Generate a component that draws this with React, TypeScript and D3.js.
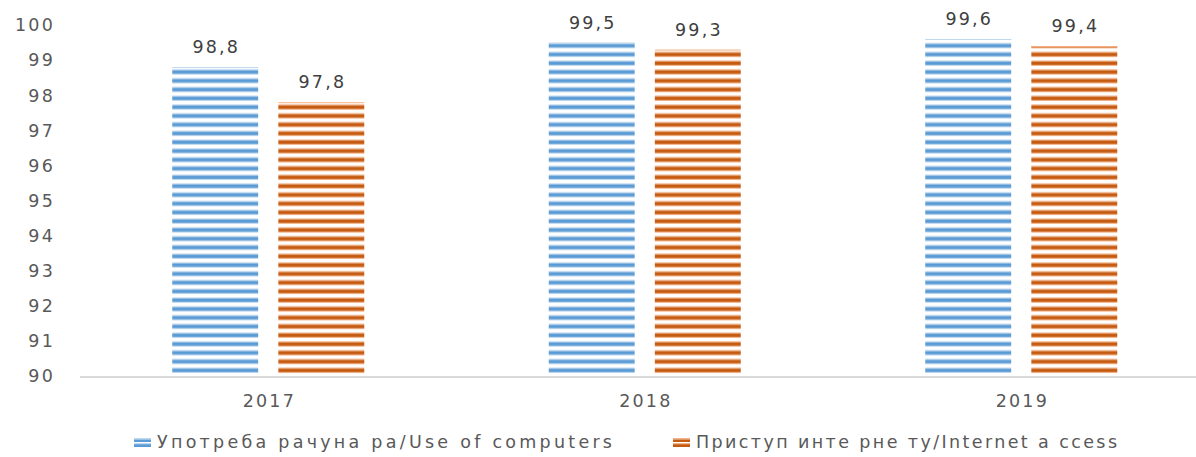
import { useEffect, useRef } from "react";
import * as d3 from "d3";

const YEARS = ["2017", "2018", "2019"];
const COMPUTERS = [98.8, 99.5, 99.6];
const INTERNET = [97.8, 99.3, 99.4];
const Y_TICKS = [90, 91, 92, 93, 94, 95, 96, 97, 98, 99, 100];

const SERIES = [
  { key: "computers", label: "Употреба рачуна ра/Use of computers", values: COMPUTERS, dark: "#5b9bd5", light: "#bdd7ee" },
  { key: "internet", label: "Приступ инте рне ту/Internet a ccess", values: INTERNET, dark: "#c55a11", light: "#f4b183" },
];

const FONT = "'DejaVu Sans', Verdana, sans-serif";
const GREY = "#595959";

export default function App() {
  const svgRef = useRef<SVGSVGElement | null>(null);

  useEffect(() => {
    if (!svgRef.current) return;
    const W = 1196;
    const H = 457;
    const svg = d3.select(svgRef.current);
    svg.selectAll("*").remove();
    svg.attr("width", W).attr("height", H);

    const x0 = d3.scaleBand<string>().domain(YEARS).range([80, 1209.5]).paddingInner(0.49).paddingOuter(0.245);
    const x1 = d3.scaleBand<string>().domain(SERIES.map((s) => s.key)).range([0, x0.bandwidth()]).paddingInner(0.19);
    const y = d3.scaleLinear().domain([90, 100]).range([376, 25]);

    // striped fills
    const period = (y(90) - y(91)) / 4;
    const defs = svg.append("defs");
    SERIES.forEach((s) => {
      const p = defs.append("pattern")
        .attr("id", `stripe-${s.key}`)
        .attr("patternUnits", "userSpaceOnUse")
        .attr("width", 10)
        .attr("height", period)
        .attr("y", y(90));
      p.append("rect").attr("width", 10).attr("height", period).attr("fill", "#fff");
      p.append("rect").attr("y", 0.4).attr("width", 10).attr("height", 1).attr("fill", s.light);
      p.append("rect").attr("y", 1.4).attr("width", 10).attr("height", 3.4).attr("fill", s.dark);
      p.append("rect").attr("y", 4.8).attr("width", 10).attr("height", 1).attr("fill", s.light);
    });

    // y tick labels
    svg.append("g").selectAll("text").data(Y_TICKS).join("text")
      .attr("x", 55)
      .attr("y", (d) => y(d))
      .attr("dy", "0.36em")
      .attr("text-anchor", "end")
      .attr("font-family", FONT)
      .attr("font-size", 17.5)
      .attr("letter-spacing", 2.2)
      .attr("fill", GREY)
      .text((d) => d);

    // bars + value labels
    SERIES.forEach((s) => {
      const g = svg.append("g");
      g.selectAll("rect").data(YEARS).join("rect")
        .attr("x", (d) => (x0(d) ?? 0) + (x1(s.key) ?? 0))
        .attr("y", (_, i) => y(s.values[i]))
        .attr("width", x1.bandwidth())
        .attr("height", (_, i) => y(90) - y(s.values[i]))
        .attr("fill", `url(#stripe-${s.key})`);
      g.selectAll("line.top").data(YEARS).join("line")
        .attr("class", "top")
        .attr("x1", (d) => (x0(d) ?? 0) + (x1(s.key) ?? 0))
        .attr("x2", (d) => (x0(d) ?? 0) + (x1(s.key) ?? 0) + x1.bandwidth())
        .attr("y1", (_, i) => y(s.values[i]) + 0.5)
        .attr("y2", (_, i) => y(s.values[i]) + 0.5)
        .attr("stroke", s.light)
        .attr("stroke-width", 1);
      g.selectAll("text").data(YEARS).join("text")
        .attr("x", (d) => (x0(d) ?? 0) + (x1(s.key) ?? 0) + x1.bandwidth() / 2 + 1.1)
        .attr("y", (_, i) => y(s.values[i]) - 14)
        .attr("text-anchor", "middle")
        .attr("font-family", FONT)
        .attr("font-size", 17.5)
        .attr("letter-spacing", 2.2)
        .attr("fill", "#404040")
        .text((_, i) => String(s.values[i]).replace(".", ","));
    });

    // x axis
    svg.append("line")
      .attr("x1", 80).attr("x2", W)
      .attr("y1", y(90) + 1).attr("y2", y(90) + 1)
      .attr("stroke", "#d9d9d9").attr("stroke-width", 2);

    svg.append("g").selectAll("text").data(YEARS).join("text")
      .attr("x", (d) => (x0(d) ?? 0) + x0.bandwidth() / 2 + 1.1)
      .attr("y", 407)
      .attr("text-anchor", "middle")
      .attr("font-family", FONT)
      .attr("font-size", 17.5)
      .attr("letter-spacing", 2.2)
      .attr("fill", GREY)
      .text((d) => d);

    // legend
    const legendX = [134, 673];
    const legendLen = [455, 421];
    SERIES.forEach((s, i) => {
      const g = svg.append("g").attr("transform", `translate(${legendX[i]},438)`);
      g.append("rect").attr("width", 17).attr("height", 9).attr("fill", "#fff");
      g.append("rect").attr("y", 0).attr("width", 17).attr("height", 1.5).attr("fill", s.light);
      g.append("rect").attr("y", 1.5).attr("width", 17).attr("height", 2.5).attr("fill", s.dark);
      g.append("rect").attr("y", 5).attr("width", 17).attr("height", 1.2).attr("fill", s.light);
      g.append("rect").attr("y", 6.2).attr("width", 17).attr("height", 2.8).attr("fill", s.dark);
      g.append("text")
        .attr("x", 23)
        .attr("y", 10)
        .attr("font-family", FONT)
        .attr("font-size", 17.5)
        .attr("textLength", legendLen[i])
        .attr("lengthAdjust", "spacing")
        .attr("fill", GREY)
        .text(s.label);
    });
  }, []);

  return (
    <div style={{ position: "absolute", left: 0, top: 0, background: "#fff" }}>
      <svg ref={svgRef} style={{ display: "block" }} />
    </div>
  );
}
